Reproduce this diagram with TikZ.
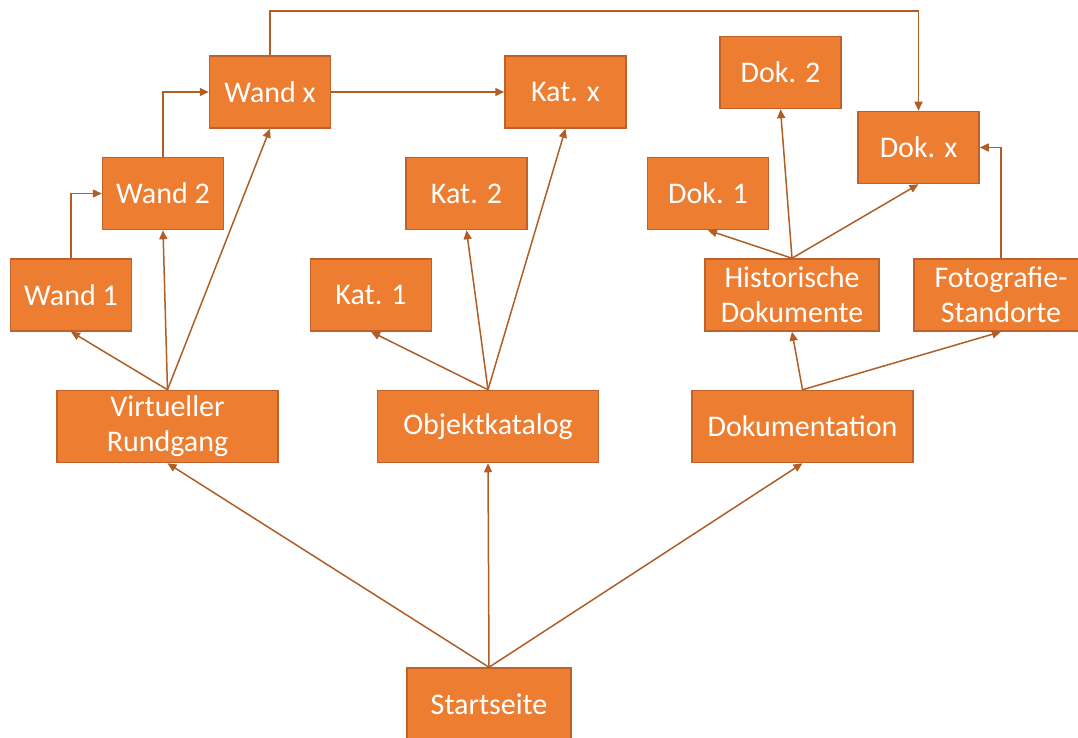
\documentclass[tikz,border=0pt]{standalone}
\usepackage{fontspec}
\setmainfont{Carlito}
\usetikzlibrary{arrows.meta}
\definecolor{boxfill}{HTML}{ED7D31}
\definecolor{boxline}{HTML}{C0602A}
\definecolor{linkcol}{HTML}{B05E26}
\tikzset{
    box/.style={draw=boxline, line width=1.5pt, fill=boxfill, text=white,
        align=center, inner sep=0pt, minimum height=72pt,
        font=\fontsize{30}{35}\selectfont},
    smallbox/.style={box, minimum width=121pt},
    widebox/.style={box, minimum width=221pt},
    midbox/.style={box, minimum width=174pt},
    link/.style={draw=linkcol, line width=1.5pt, -{Triangle[length=9pt,width=8pt]}},
}

\begin{document}
\begin{tikzpicture}[x=1pt,y=-1pt]
    \useasboundingbox (0,0) rectangle (1078,738);

    % start and main sections
    \node[box, minimum width=164pt] (start) at (489,704) {Startseite};
    \node[widebox] (vr)  at (167.5,426.5) {Virtueller\\Rundgang};
    \node[widebox] (ok)  at (488,426.5)   {Objektkatalog};
    \node[widebox] (dok) at (802.5,426.5) {Dokumentation};

    % virtual tour
    \node[smallbox] (w1) at (71,295)    {Wand 1};
    \node[smallbox] (w2) at (163,193.5) {Wand 2};
    \node[smallbox] (wx) at (270,92)    {Wand x};

    % catalogue
    \node[smallbox] (k1) at (371,295)     {Kat. 1};
    \node[smallbox] (k2) at (466.5,193.5) {Kat. 2};
    \node[smallbox] (kx) at (565.5,92)    {Kat. x};

    % documentation
    \node[midbox] (hd)   at (792,295)  {Historische\\Dokumente};
    \node[midbox] (foto) at (1001,295) {Fotografie-\\Standorte};
    \node[smallbox] (d1) at (708,193.5)   {Dok. 1};
    \node[smallbox] (d2) at (780.5,72.5)  {Dok. 2};
    \node[smallbox] (dx) at (918.5,147.5) {Dok. x};

    \coordinate (top) at (270,11);

    \draw[link] (start.north) -- (vr.south);
    \draw[link] (start.north) -- (ok.south);
    \draw[link] (start.north) -- (dok.south);

    \draw[link] (vr.north) -- (w1.south);
    \draw[link] (vr.north) -- (w2.south);
    \draw[link] (vr.north) -- (wx.south);
    \draw[link] (w1.north) |- (w2.west);
    \draw[link] (w2.north) |- (wx.west);
    \draw[link] (wx.east) -- (kx.west);
    \draw[link] (wx.north) -- (top) -| (dx.north);

    \draw[link] (ok.north) -- (k1.south);
    \draw[link] (ok.north) -- (k2.south);
    \draw[link] (ok.north) -- (kx.south);

    \draw[link] (dok.north) -- (hd.south);
    \draw[link] (dok.north) -- (foto.south);
    \draw[link] (hd.north) -- (d1.south);
    \draw[link] (hd.north) -- (d2.south);
    \draw[link] (hd.north) -- (dx.south);
    \draw[link] (foto.north) |- (dx.east);
\end{tikzpicture}
\end{document}
